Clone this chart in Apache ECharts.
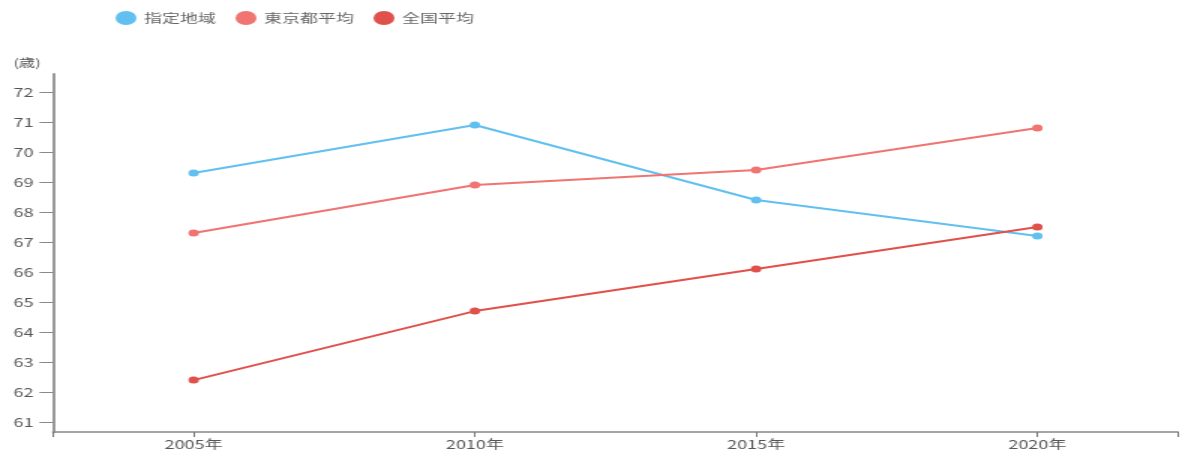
<!DOCTYPE html>
<html>
<head>
<meta charset="utf-8">
<script src="https://cdn.jsdelivr.net/npm/echarts@6/dist/echarts.min.js"></script>
<style>
html,body{margin:0;padding:0;background:#fff;overflow:hidden;}
#wrap{width:1185px;height:457px;overflow:hidden;}
#c{width:790px;height:457px;transform:scaleX(1.5);transform-origin:0 0;}
</style>
</head>
<body>
<div id="wrap"><div id="c"></div></div>
<script>
const categories = ['2005年', '2010年', '2015年', '2020年'];
const seriesNames = ['指定地域', '東京都平均', '全国平均'];
const designated = [69.3, 70.9, 68.4, 67.2];
const tokyoAvg = [67.3, 68.9, 69.4, 70.8];
const nationalAvg = [62.4, 64.7, 66.1, 67.5];
const yTicks = [61, 62, 63, 64, 65, 66, 67, 68, 69, 70, 71, 72];
const yUnit = '(歳)';

const colors = ['#62c0f0', '#f07472', '#e0514b'];
const font = "'Noto Sans CJK JP', 'Noto Sans', sans-serif";

// category positions on a value axis: index i, band edges at i±0.5
const catIdx = categories.map((c, i) => i);
const xTickValues = [-0.5].concat(catIdx, [categories.length - 0.5]);
const toPairs = arr => arr.map((v, i) => [i, v]);

const chart = echarts.init(document.getElementById('c'), null, { width: 790, height: 457 });
chart.setOption({
  animation: false,
  color: colors,
  textStyle: { fontFamily: font },
  legend: {
    left: 72, top: 6,
    icon: 'circle',
    itemWidth: 14, itemHeight: 14, itemGap: 13,
    textStyle: { color: '#666', fontSize: 12, fontFamily: font },
    data: seriesNames
  },
  grid: { left: 35.33, right: 4.67, top: 74, bottom: 25, containLabel: false },
  xAxis: {
    type: 'value',
    min: -0.5, max: categories.length - 0.5,
    axisLine: { show: true, onZero: false, lineStyle: { color: '#888', width: 1.5 } },
    axisTick: { show: true, length: 5, lineStyle: { color: '#777', width: 1 }, customValues: xTickValues },
    axisLabel: { show: true, color: '#555', fontSize: 12, margin: 6, fontFamily: font,
      customValues: catIdx, formatter: v => categories[Math.round(v)] },
    splitLine: { show: false }
  },
  yAxis: {
    type: 'value',
    min: 60.67, max: 72.6,
    name: yUnit,
    nameLocation: 'end',
    nameGap: 6,
    nameTextStyle: { color: '#555', fontSize: 11, align: 'right', padding: [0, 8, 0, 0] },
    axisLine: { show: true, onZero: false, lineStyle: { color: '#999', width: 2 } },
    axisTick: { show: true, length: 9, lineStyle: { color: '#888' }, customValues: yTicks },
    axisLabel: { color: '#555', fontSize: 12, margin: 13, customValues: yTicks, fontFamily: font },
    splitLine: { show: false }
  },
  series: [
    { name: seriesNames[0], type: 'line', data: toPairs(designated), symbol: 'circle', symbolSize: 7, lineStyle: { width: 2 } },
    { name: seriesNames[1], type: 'line', data: toPairs(tokyoAvg), symbol: 'circle', symbolSize: 7, lineStyle: { width: 2 } },
    { name: seriesNames[2], type: 'line', data: toPairs(nationalAvg), symbol: 'circle', symbolSize: 7, lineStyle: { width: 2 } }
  ]
});
</script>
</body>
</html>
